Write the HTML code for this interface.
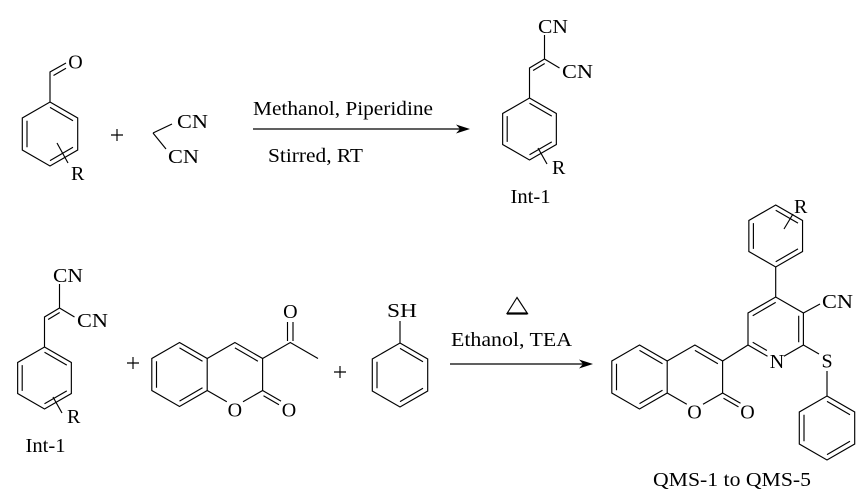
<!DOCTYPE html>
<html>
<head>
<meta charset="utf-8">
<style>
  html, body { margin: 0; padding: 0; background: #ffffff; }
  svg { display: block; }
  text { font-family: "Liberation Serif", "DejaVu Serif", serif; fill: #000; }
  .b { stroke: #000; stroke-width: 1.15; fill: none; stroke-linecap: butt; stroke-linejoin: miter; }
  .lbl { font-size: 20px; }
  .cond { font-size: 20px; }
</style>
</head>
<body>
<svg width="866" height="496" viewBox="0 0 866 496" xmlns="http://www.w3.org/2000/svg">

  <!-- ===================== TOP ROW ===================== -->

  <!-- Benzaldehyde (ring center 50,134, r=32) -->
  <g transform="translate(50,134)">
    <path class="b" d="M0,-32 L27.7,-16 L27.7,16 L0,32 L-27.7,16 L-27.7,-16 Z"/>
    <path class="b" d="M-23,-13.3 L-23,13.3 M0,-26.6 L23,-13.3 M0,26.6 L23,13.3"/>
    <path class="b" d="M0,-32 L0,-62 L16,-71"/>
    <path class="b" d="M3.5,-58.5 L16,-65.8"/>
    <text class="lbl" x="25.5" y="-65.5" text-anchor="middle">O</text>
    <path class="b" d="M7,9 L18,29"/>
    <text class="lbl" x="21" y="46">R</text>
  </g>

  <!-- plus -->
  <path class="b" d="M111,135 L123,135 M117,129 L117,141"/>

  <!-- Malononitrile -->
  <path class="b" d="M153,133 L172,124 M153,133 L166,149"/>
  <text class="lbl" x="177" y="128" textLength="31" lengthAdjust="spacingAndGlyphs">CN</text>
  <text class="lbl" x="168" y="163" textLength="31" lengthAdjust="spacingAndGlyphs">CN</text>

  <!-- Arrow 1 -->
  <text class="cond" x="253" y="115" textLength="180" lengthAdjust="spacingAndGlyphs">Methanol, Piperidine</text>
  <path class="b" d="M253,129 L460,129"/>
  <polygon points="470,129 456,124.5 460,129 456,133.5" fill="#000"/>
  <text class="cond" x="268" y="162" textLength="95" lengthAdjust="spacingAndGlyphs">Stirred, RT</text>

  <!-- Int-1 (top right) -->
  <g transform="translate(529.5,129)">
    <path class="b" d="M0,-31 L26.85,-15.5 L26.85,15.5 L0,31 L-26.85,15.5 L-26.85,-15.5 Z"/>
    <path class="b" d="M-22.3,-12.9 L-22.3,12.9 M0,-25.7 L22.3,-12.9 M0,25.7 L22.3,12.9"/>
    <path class="b" d="M0,-31 L0,-61 L15,-70 M15,-70 L15,-94 M15,-70 L30,-61"/>
    <path class="b" d="M3.6,-58.5 L15.2,-65.5"/>
    <text class="lbl" x="8.5" y="-96" textLength="30" lengthAdjust="spacingAndGlyphs">CN</text>
    <text class="lbl" x="32.5" y="-51" textLength="31" lengthAdjust="spacingAndGlyphs">CN</text>
    <path class="b" d="M8.5,19 L17.5,35"/>
    <text class="lbl" x="22.5" y="45">R</text>
    <text class="lbl" x="1" y="74" text-anchor="middle" textLength="40" lengthAdjust="spacingAndGlyphs">Int-1</text>
  </g>

  <!-- ===================== BOTTOM ROW ===================== -->

  <!-- Int-1 (bottom left) -->
  <g transform="translate(44.5,378)">
    <path class="b" d="M0,-31 L26.85,-15.5 L26.85,15.5 L0,31 L-26.85,15.5 L-26.85,-15.5 Z"/>
    <path class="b" d="M-22.3,-12.9 L-22.3,12.9 M0,-25.7 L22.3,-12.9 M0,25.7 L22.3,12.9"/>
    <path class="b" d="M0,-31 L0,-61 L15,-70 M15,-70 L15,-94 M15,-70 L30,-61"/>
    <path class="b" d="M3.6,-58.5 L15.2,-65.5"/>
    <text class="lbl" x="8.5" y="-96" textLength="30" lengthAdjust="spacingAndGlyphs">CN</text>
    <text class="lbl" x="32.5" y="-51" textLength="31" lengthAdjust="spacingAndGlyphs">CN</text>
    <path class="b" d="M8.5,19 L17.5,35"/>
    <text class="lbl" x="22.5" y="45">R</text>
    <text class="lbl" x="1" y="74" text-anchor="middle" textLength="40" lengthAdjust="spacingAndGlyphs">Int-1</text>
  </g>

  <!-- plus -->
  <path class="b" d="M127,363 L139,363 M133,357 L133,369"/>

  <!-- 3-acetylcoumarin (benzo center 179.5,374.5) -->
  <g transform="translate(179.5,374.5)">
    <path class="b" d="M0,-32 L27.7,-16 L27.7,16 L0,32 L-27.7,16 L-27.7,-16 Z"/>
    <path class="b" d="M-23,-13.3 L-23,13.3 M0,-26.6 L23,-13.3 M0,26.6 L23,13.3"/>
    <path class="b" d="M27.7,-16 L55.4,-32 L83.1,-16 L83.1,16 L63.5,27.3 M47.3,27.3 L27.7,16"/>
    <path class="b" d="M55.4,-26.6 L78.4,-13.3"/>
    <text class="lbl" x="55.4" y="42" text-anchor="middle">O</text>
    <path class="b" d="M83.1,16 L101.5,26.6 M84,21.3 L99.5,30.2"/>
    <text class="lbl" x="109.5" y="42" text-anchor="middle">O</text>
  </g>
  <!-- acetyl -->
  <path class="b" d="M262.6,358.5 L290.3,342.5 L318,358.5"/>
  <path class="b" d="M287.5,341 L287.5,322 M293,341 L293,322"/>
  <text class="lbl" x="290.3" y="318" text-anchor="middle">O</text>

  <!-- plus -->
  <path class="b" d="M334,372 L346,372 M340,366 L340,378"/>

  <!-- Thiophenol (center 400,375) -->
  <g transform="translate(400,375)">
    <path class="b" d="M0,-32 L27.7,-16 L27.7,16 L0,32 L-27.7,16 L-27.7,-16 Z"/>
    <path class="b" d="M-23,-13.3 L-23,13.3 M0,-26.6 L23,-13.3 M0,26.6 L23,13.3"/>
    <path class="b" d="M0,-32 L0,-54"/>
  </g>
  <text class="lbl" x="402" y="317" text-anchor="middle" textLength="30" lengthAdjust="spacingAndGlyphs">SH</text>

  <!-- Arrow 2 -->
  <polygon points="517,297.5 507,313.5 527.5,313.5" fill="none" stroke="#000" stroke-width="1.15" stroke-linejoin="miter"/>
  <path d="M507,313.5 L527.5,313.5" stroke="#000" stroke-width="2.2"/>
  <text class="cond" x="451" y="346" textLength="121" lengthAdjust="spacingAndGlyphs">Ethanol, TEA</text>
  <path class="b" d="M450,364 L583,364"/>
  <polygon points="593,364 579,359.5 583,364 579,368.5" fill="#000"/>

  <!-- ===================== PRODUCT ===================== -->

  <!-- coumarin part (benzo center 639.5,377) -->
  <g transform="translate(639.5,377)">
    <path class="b" d="M0,-32 L27.7,-16 L27.7,16 L0,32 L-27.7,16 L-27.7,-16 Z"/>
    <path class="b" d="M-23,-13.3 L-23,13.3 M0,-26.6 L23,-13.3 M0,26.6 L23,13.3"/>
    <path class="b" d="M27.7,-16 L55.4,-32 L83.1,-16 L83.1,16 L63.5,27.3 M47.3,27.3 L27.7,16"/>
    <path class="b" d="M55.4,-26.6 L78.4,-13.3"/>
    <text class="lbl" x="55" y="41.5" text-anchor="middle">O</text>
    <path class="b" d="M83.1,16 L101,26.3 M84,21.3 L99,29.9"/>
    <text class="lbl" x="108" y="41.5" text-anchor="middle">O</text>
  </g>

  <!-- coumarin C3 to pyridine C6 -->
  <path class="b" d="M722.6,361 L748,345"/>

  <!-- pyridine (center 775.7,329) -->
  <g transform="translate(775.7,329)">
    <path class="b" d="M-27.7,16 L-27.7,-16 L0,-32 L27.7,-16 L27.7,16 L8.2,27.3 M-8.2,27.3 L-27.7,16"/>
    <path class="b" d="M0,-26.6 L-23,-13.3 M23,-13.3 L23,13.3 M-23,13.3 L-8.8,21.5"/>
    <text class="lbl" x="1.3" y="39" text-anchor="middle">N</text>
  </g>

  <!-- C4 to aryl -->
  <path class="b" d="M775.7,297 L775.7,267"/>

  <!-- top aryl (center 775.7,236, r=31) -->
  <g transform="translate(775.7,236)">
    <path class="b" d="M0,-31 L26.85,-15.5 L26.85,15.5 L0,31 L-26.85,15.5 L-26.85,-15.5 Z"/>
    <path class="b" d="M-22.3,-12.9 L-22.3,12.9 M0,-25.7 L22.3,-12.9 M0,25.7 L22.3,12.9"/>
  </g>
  <path class="b" d="M784,229 L793,214"/>
  <text class="lbl" x="794" y="213">R</text>

  <!-- CN on pyridine -->
  <path class="b" d="M803.4,313 L820,304"/>
  <text class="lbl" x="822" y="308" textLength="31" lengthAdjust="spacingAndGlyphs">CN</text>

  <!-- S -->
  <path class="b" d="M803.4,345 L819,354"/>
  <text class="lbl" x="827" y="367.5" text-anchor="middle">S</text>
  <path class="b" d="M827,371 L827,396"/>

  <!-- S-phenyl (center 827,428) -->
  <g transform="translate(827,428)">
    <path class="b" d="M0,-32 L27.7,-16 L27.7,16 L0,32 L-27.7,16 L-27.7,-16 Z"/>
    <path class="b" d="M-23,-13.3 L-23,13.3 M0,-26.6 L23,-13.3 M0,26.6 L23,13.3"/>
  </g>

  <text class="cond" x="653" y="486" textLength="158" lengthAdjust="spacingAndGlyphs">QMS-1 to QMS-5</text>
</svg>
</body>
</html>
